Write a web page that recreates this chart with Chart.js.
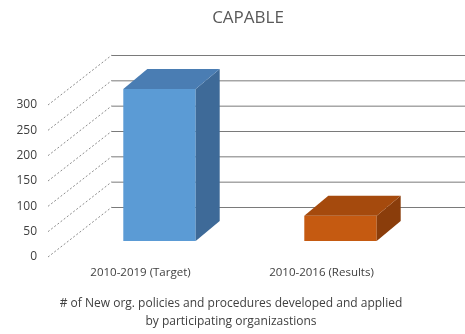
<!DOCTYPE html>
<html>
<head>
<meta charset="utf-8">
<script src="https://cdn.jsdelivr.net/npm/chart.js@4"></script>
<style>
  html, body { margin: 0; padding: 0; background: #fff; }
</style>
</head>
<body>
<canvas id="chart" width="465" height="334"></canvas>
<script>
const categories = ['2010-2019 (Target)', '2010-2016 (Results)'];
const values = [300, 50];
const yTicks = [0, 50, 100, 150, 200, 250, 300];
const chartTitle = 'CAPABLE';
const xTitle = ['# of New org. policies and procedures developed and applied', 'by participating organizastions'];

const frontColors = ['#5B9BD5', '#C55A11'];
const topColors = ['#4A7DB3', '#A54A0D'];
const sideColors = ['#3E6A98', '#8A3D0B'];

// fake 3d: depth of the walls, where the bars sit, and how deep they are
const WALL = { dx: 62, dy: -50 };
const BAR_SHIFT = { dx: 19, dy: -16 };
const BAR_DEPTH = { dx: 24, dy: -20 };

const walls = {
  id: 'walls',
  beforeDatasetsDraw(chart) {
    const { ctx, chartArea: a, scales: { y } } = chart;
    ctx.save();
    yTicks.forEach(v => {
      const py = y.getPixelForValue(v);
      // side wall
      ctx.strokeStyle = '#8c8c8c';
      ctx.lineWidth = 1;
      ctx.setLineDash([2, 2]);
      ctx.beginPath();
      ctx.moveTo(a.left - 2, py);
      ctx.lineTo(a.left + WALL.dx, py + WALL.dy);
      ctx.stroke();
      // back wall
      ctx.setLineDash([]);
      ctx.strokeStyle = '#7a7a7a';
      ctx.beginPath();
      ctx.moveTo(a.left + WALL.dx, py + WALL.dy + 0.5);
      ctx.lineTo(a.right + WALL.dx, py + WALL.dy + 0.5);
      ctx.stroke();
    });
    ctx.restore();
    // bars stand a bit into the depth
    ctx.save();
    ctx.translate(BAR_SHIFT.dx, BAR_SHIFT.dy);
  },
  afterDatasetsDraw(chart) {
    const { ctx } = chart;
    const { dx, dy } = BAR_DEPTH;
    chart.getDatasetMeta(0).data.forEach((bar, i) => {
      const { x, y, base, width } = bar.getProps(['x', 'y', 'base', 'width'], true);
      const l = x - width / 2, r = x + width / 2;
      ctx.fillStyle = sideColors[i];
      ctx.beginPath();
      ctx.moveTo(r, y);
      ctx.lineTo(r + dx, y + dy);
      ctx.lineTo(r + dx, base + dy);
      ctx.lineTo(r, base);
      ctx.closePath();
      ctx.fill();
      ctx.fillStyle = topColors[i];
      ctx.beginPath();
      ctx.moveTo(l, y);
      ctx.lineTo(l + dx, y + dy);
      ctx.lineTo(r + dx, y + dy);
      ctx.lineTo(r, y);
      ctx.closePath();
      ctx.fill();
    });
    ctx.restore();
  }
};

new Chart(document.getElementById('chart'), {
  type: 'bar',
  data: {
    labels: categories,
    datasets: [{
      data: values,
      backgroundColor: frontColors,
      borderWidth: 0,
      barPercentage: 0.8,
      categoryPercentage: 0.5,
      clip: false
    }]
  },
  options: {
    responsive: false,
    animation: false,
    layout: { padding: { left: 31, right: 0, top: 0, bottom: 0 } },
    plugins: {
      legend: { display: false },
      tooltip: { enabled: false },
      title: {
        display: true,
        text: chartTitle,
        color: '#595959',
        font: { family: 'Open Sans', size: 17, weight: 'normal' },
        padding: { top: 8, bottom: 76.6 }
      }
    },
    scales: {
      x: {
        grid: { display: false, drawTicks: false },
        border: { display: false },
        ticks: { color: '#404040', font: { family: 'Open Sans', size: 11.5 }, padding: 9 },
        title: {
          display: true,
          text: xTitle,
          color: '#404040',
          font: { family: 'Open Sans', size: 12, lineHeight: 1.5 },
          padding: { top: 0, bottom: 3 }
        },
        afterFit(s) { s.height = 77; }
      },
      y: {
        min: 0,
        max: 300,
        // mirrored + negative padding so the labels can hang left of the padded box
        ticks: {
          stepSize: 50, color: '#404040', font: { family: 'Open Sans', size: 12 },
          mirror: true, crossAlign: 'far', padding: -33.5
        },
        grid: { display: false, drawTicks: false },
        border: { display: false },
        afterFit(s) { s.width = 19; }
      },
      // empty space on the right, where the back wall runs out
      yRight: {
        position: 'right',
        min: 0,
        max: 300,
        ticks: { display: false },
        grid: { display: false, drawTicks: false },
        border: { display: false },
        afterFit(s) { s.width = 53; }
      }
    }
  },
  plugins: [walls]
});
</script>
</body>
</html>
